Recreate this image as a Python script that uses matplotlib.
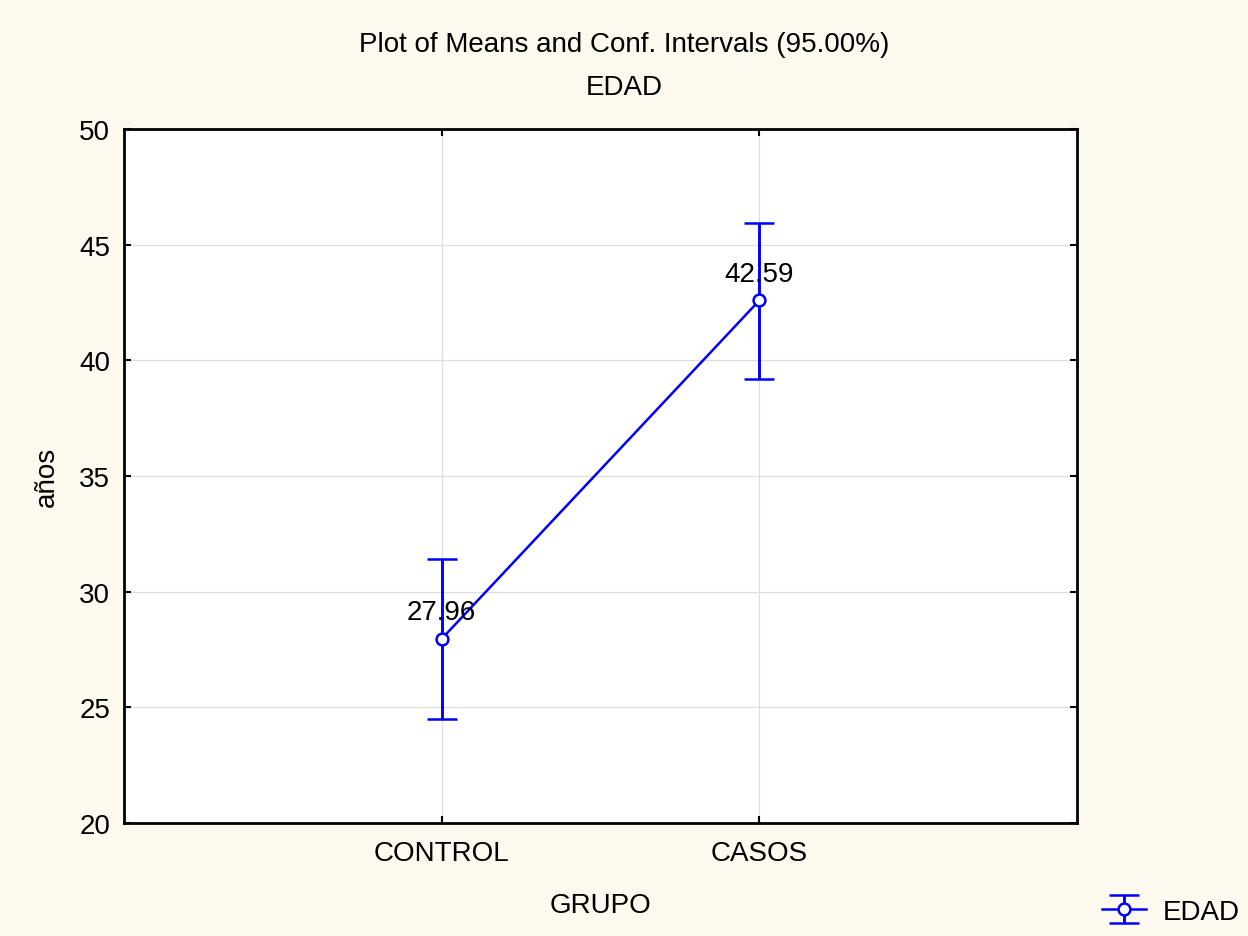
import matplotlib.pyplot as plt

# data
groups = ["CONTROL", "CASOS"]
means = [27.96, 42.59]
ci_low = [24.50, 39.20]
ci_high = [31.43, 45.94]
yticks = [20, 25, 30, 35, 40, 45, 50]

bg = '#fdf9ef'
blue = '#0000ff'
fs = 20
plt.rcParams['font.family'] = ['Liberation Sans', 'DejaVu Sans']

fig = plt.figure(figsize=(12.48, 9.37), dpi=100, facecolor=bg)
ax = fig.add_axes([124 / 1248, 1 - 824 / 937, 953 / 1248, 694 / 937])
ax.set_facecolor('white')

x = [i + 1 for i in range(len(groups))]
err_lo = [m - l for m, l in zip(means, ci_low)]
err_hi = [h - m for m, h in zip(means, ci_high)]
eb = ax.errorbar(x, means, yerr=[err_lo, err_hi], color=blue, linewidth=1.8,
                 elinewidth=2.1, capsize=11, capthick=2.1, marker='o', markersize=8.5,
                 markerfacecolor='white', markeredgecolor=blue, markeredgewidth=1.8,
                 label='EDAD', zorder=3)
for xi, m in zip(x, means):
    ax.annotate(f"{m:.2f}", (xi, m), xytext=(0, 19), textcoords='offset points',
                ha='center', va='center', fontsize=fs, zorder=4)

ax.set_xlim(0, 3)
ax.set_ylim(20, 50)
ax.set_xticks(x)
ax.set_xticklabels(groups)
ax.set_yticks(yticks)
ax.grid(color='#dddddd', linewidth=0.9)
ax.set_axisbelow(True)
ax.tick_params(direction='in', length=5, width=1.5, labelsize=fs, top=True, right=True)
ax.tick_params(axis='x', pad=12)
ax.tick_params(axis='y', pad=10)
for s in ax.spines.values():
    s.set_linewidth(2)

ax.set_xlabel("GRUPO", fontsize=fs)
ax.set_ylabel("años", fontsize=fs)
ax.xaxis.set_label_coords(0.5, (824 - 906) / 694)
ax.yaxis.set_label_coords((47 - 124) / 953, 0.5)
ax.xaxis.label.set_va('center')
ax.yaxis.label.set_va('center')
fig.text(0.5, 1 - 45 / 937, "Plot of Means and Conf. Intervals (95.00%)", ha='center', va='center', fontsize=fs)
fig.text(0.5, 1 - 88 / 937, "EDAD", ha='center', va='center', fontsize=fs)

fig.legend(handles=[eb], labels=['EDAD'], loc='center', bbox_to_anchor=(1171 / 1248, 1 - 913 / 937),
           frameon=False, fontsize=fs, handlelength=1.6, handletextpad=0.6)

fig.savefig('out.png', dpi=100, facecolor=bg)
